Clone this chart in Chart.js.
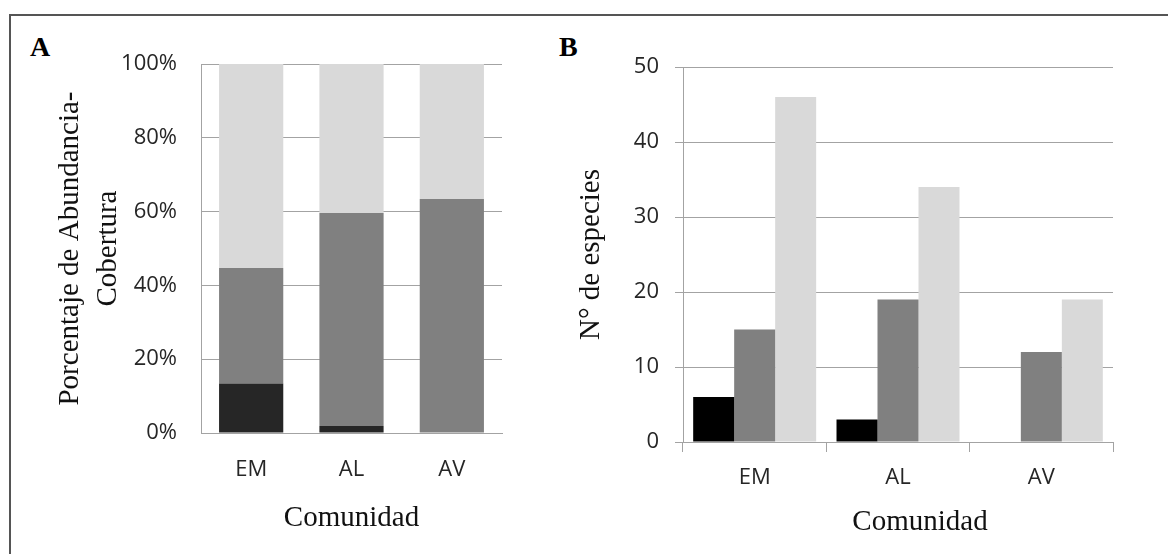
<!DOCTYPE html>
<html>
<head>
<meta charset="utf-8">
<script src="https://cdn.jsdelivr.net/npm/chart.js@4.4.1/dist/chart.umd.min.js"></script>
<style>
  html, body { margin: 0; padding: 0; background: #fff; overflow: hidden; }
  body { width: 1168px; height: 554px; position: relative; }
  .frame { position: absolute; left: 9px; top: 14px; width: 1200px; height: 600px;
    border-left: 2px solid #555; border-top: 2px solid #555; }
  .panel-letter { position: absolute; font: bold 28px "Liberation Serif", serif; line-height: 28px; color: #000; }
  .axis-title { position: absolute; font: 29px "Liberation Serif", serif; line-height: 34px; color: #111; text-align: center; }
  canvas { position: absolute; top: 0; }
</style>
</head>
<body>
<div class="frame"></div>
<div class="panel-letter" style="left:30px; top:33px;">A</div>
<div class="panel-letter" style="left:559px; top:33px;">B</div>
<canvas id="chart-a" width="560" height="554" style="left:0"></canvas>
<canvas id="chart-b" width="608" height="554" style="left:560px"></canvas>
<div class="axis-title" style="left:820px; top:503px; width:200px;">Comunidad</div>

<script>
// Comunidades
const categories = ['EM', 'AL', 'AV']

// A: porcentaje de abundancia-cobertura (apilado al 100%)
const coberturaOscura = [13.4, 1.9, 0]
const coberturaMedia = [31.3, 57.7, 63.4]
const coberturaClara = [55.3, 40.4, 36.6]
const pctTicks = [0, 20, 40, 60, 80, 100]

// B: numero de especies
const especiesNegro = [6, 3, 0]
const especiesGris = [15, 19, 12]
const especiesClaro = [46, 34, 19]
const especiesTicks = [0, 10, 20, 30, 40, 50]

const GRID = '#a3a3a3'
const TICK_FONT = { family: '"Open Sans", sans-serif', size: 22 }
const TITLE_FONT = { family: '"Liberation Serif", serif', size: 29, lineHeight: 1.3 }

Chart.defaults.animation = false
Chart.defaults.color = '#262626'

function setTicks(values) {
  return (scale) => { scale.ticks = values.map(v => ({ value: v })) }
}

// Panel A
new Chart(document.getElementById('chart-a'), {
  type: 'bar',
  data: {
    labels: categories,
    datasets: [
      { data: coberturaOscura, backgroundColor: '#262626' },
      { data: coberturaMedia, backgroundColor: '#808080' },
      { data: coberturaClara, backgroundColor: '#d9d9d9' },
    ]
  },
  options: {
    responsive: false,
    devicePixelRatio: 1,
    layout: { padding: { left: 40, top: 64, right: 58, bottom: 0 } },
    datasets: { bar: { barPercentage: 0.64, categoryPercentage: 1 } },
    plugins: { legend: { display: false }, tooltip: { enabled: false } },
    scales: {
      x: {
        stacked: true,
        grid: { display: false, drawTicks: false },
        border: { display: true, color: GRID, width: 1 },
        ticks: { font: TICK_FONT, padding: 24, maxRotation: 0 },
        title: { display: true, text: 'Comunidad', font: TITLE_FONT, color: '#111', padding: { top: 0, bottom: 17 } },
        afterFit: (s) => { s.height = 121 }
      },
      y: {
        stacked: true,
        min: 0,
        max: 100,
        afterBuildTicks: setTicks(pctTicks),
        grid: { color: GRID, lineWidth: 1, drawTicks: false },
        border: { display: true, color: GRID, width: 1 },
        ticks: { font: TICK_FONT, padding: 24, callback: (v) => v + '%' },
        title: {
          display: true,
          text: ['Porcentaje de Abundancia-', 'Cobertura'],
          font: TITLE_FONT,
          color: '#111',
          padding: { top: 12, bottom: 0 }
        },
        afterFit: (s) => { s.width = 161 }
      }
    }
  }
})

// Panel B
new Chart(document.getElementById('chart-b'), {
  type: 'bar',
  data: {
    labels: categories,
    datasets: [
      { data: especiesNegro, backgroundColor: '#000000' },
      { data: especiesGris, backgroundColor: '#808080' },
      { data: especiesClaro, backgroundColor: '#d9d9d9' },
    ]
  },
  options: {
    responsive: false,
    devicePixelRatio: 1,
    layout: { padding: { left: 0, top: 67, right: 55, bottom: 0 } },
    datasets: { bar: { barPercentage: 1, categoryPercentage: 0.858 } },
    plugins: { legend: { display: false }, tooltip: { enabled: false } },
    scales: {
      x: {
        grid: { drawOnChartArea: false, drawTicks: true, tickLength: 10, color: GRID, offset: true },
        border: { display: true, color: GRID, width: 1 },
        ticks: { font: TICK_FONT, padding: 13, maxRotation: 0 },
        afterFit: (s) => { s.height = 112 }
      },
      y: {
        min: 0,
        max: 50,
        afterBuildTicks: setTicks(especiesTicks),
        grid: { color: GRID, lineWidth: 1, drawTicks: true, tickLength: 8 },
        border: { display: true, color: GRID, width: 1 },
        ticks: { font: TICK_FONT, padding: 16 },
        title: {
          display: true,
          text: 'N° de especies',
          font: TITLE_FONT,
          color: '#111',
          padding: { top: 13, bottom: 0 }
        },
        afterFit: (s) => { s.width = 123 }
      }
    }
  }
})
</script>
</body>
</html>
